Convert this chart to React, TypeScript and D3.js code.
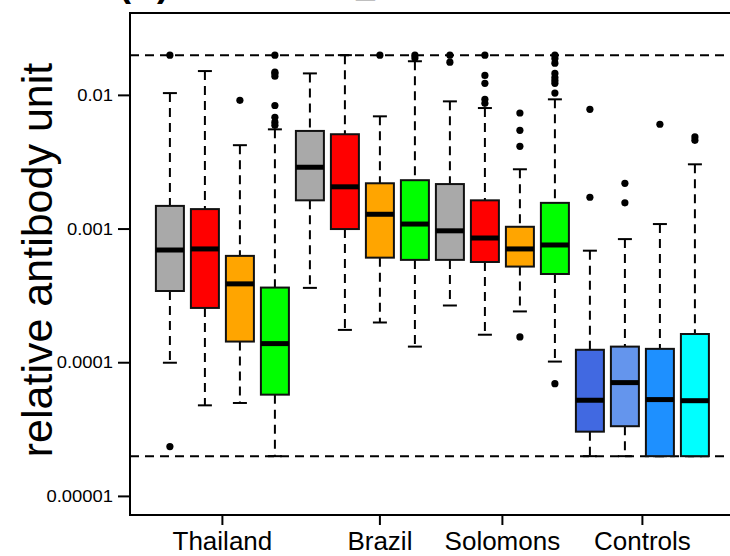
import React from "react";
import * as d3 from "d3";

// groups and box order
const groupLabels = ["Thailand", "Brazil", "Solomons", "Controls"];
const groupAt = [2.5, 7, 10.5, 14.5];
const boxFill = [
  "#A9A9A9", "#FF0000", "#FFA500", "#00FF00",
  "#A9A9A9", "#FF0000", "#FFA500", "#00FF00",
  "#A9A9A9", "#FF0000", "#FFA500", "#00FF00",
  "#4169E1", "#6495ED", "#1E90FF", "#00FFFF",
];

// box statistics
const whiskerLo = [1.0e-4, 4.8e-5, 5.0e-5, 2.0e-5, 3.63e-4, 1.76e-4, 2.0e-4, 1.32e-4, 2.68e-4, 1.62e-4, 2.42e-4, 1.02e-4, 2.0e-5, 2.0e-5, 2.0e-5, 2.0e-5];
const hingeLo = [3.44e-4, 2.57e-4, 1.44e-4, 5.77e-5, 1.64e-3, 1.0e-3, 6.11e-4, 5.88e-4, 5.88e-4, 5.67e-4, 5.24e-4, 4.61e-4, 3.05e-5, 3.35e-5, 2.0e-5, 2.0e-5];
const medians = [6.97e-4, 7.1e-4, 3.89e-4, 1.39e-4, 2.9e-3, 2.07e-3, 1.29e-3, 1.09e-3, 9.7e-4, 8.57e-4, 7.1e-4, 7.6e-4, 5.24e-5, 7.1e-5, 5.3e-5, 5.2e-5];
const hingeHi = [1.49e-3, 1.41e-3, 6.3e-4, 3.65e-4, 5.42e-3, 5.12e-3, 2.2e-3, 2.32e-3, 2.17e-3, 1.64e-3, 1.04e-3, 1.57e-3, 1.25e-4, 1.32e-4, 1.27e-4, 1.64e-4];
const whiskerHi = [1.04e-2, 1.52e-2, 4.24e-3, 5.57e-3, 1.46e-2, 2.0e-2, 6.97e-3, 1.8e-2, 9.02e-3, 8.04e-3, 2.8e-3, 9.34e-3, 6.89e-4, 8.41e-4, 1.09e-3, 3.05e-3];
const outliers = [
  [2.0e-2, 2.36e-5],
  [],
  [9.18e-3],
  [2.0e-2, 1.49e-2, 1.46e-2, 1.39e-2, 8.4e-3, 6.86e-3, 6.3e-3, 5.97e-3],
  [],
  [],
  [2.0e-2],
  [2.0e-2, 1.9e-2],
  [2.0e-2, 1.77e-2],
  [2.0e-2, 1.41e-2, 1.23e-2, 9.34e-3, 8.72e-3],
  [7.38e-3, 5.48e-3, 4.16e-3, 1.56e-4],
  [2.0e-2, 1.89e-2, 1.74e-2, 1.46e-2, 1.36e-2, 1.29e-2, 1.23e-2, 1.04e-2, 6.97e-5],
  [7.87e-3, 1.73e-3],
  [2.2e-3, 1.57e-3],
  [6.08e-3],
  [4.89e-3, 4.61e-3],
];

// y axis
const yTicks = [1e-5, 1e-4, 1e-3, 1e-2];
const yTickLabels = ["0.00001", "0.0001", "0.001", "0.01"];
const limitLines = [0.02, 2e-5];
const yLim = [1e-5, 0.03];

const W = 730;
const H = 556;
const font = "'Liberation Sans', Arial, Helvetica, sans-serif";

export default function App() {
  const n = boxFill.length;
  const left = 130, top = 13, bottom = 515;
  const unit = 35;
  const ext = n * 0.04;
  const xDom = [0.5 - ext, n + 0.5 + ext];
  const x = d3.scaleLinear().domain(xDom).range([left, left + (xDom[1] - xDom[0]) * unit]);
  const lo = Math.log10(yLim[0]), hi = Math.log10(yLim[1]);
  const yExt = (hi - lo) * 0.04;
  const y = d3.scaleLog().domain([10 ** (lo - yExt), 10 ** (hi + yExt)]).range([bottom, top]);
  const right = x(xDom[1]);

  const boxW = unit * 0.8;
  const stapleW = boxW / 2;
  const dash = "9,6";

  return (
    <div style={{ position: "fixed", left: 0, top: 0 }}>
      <svg width={W} height={H} style={{ display: "block", background: "#fff" }} fontFamily={font}>
        {/* title (cut off at the top of the picture) */}
        <text x={119} y={-3.6} fontSize={36} fontWeight="bold">(A)</text>
        <text x={203} y={-3.6} fontSize={34} fontWeight="bold">PvRBP2b_161-1454</text>

        {/* limit lines */}
        {limitLines.map((v, i) => (
          <line key={"lim" + i} x1={left} x2={right} y1={y(v)} y2={y(v)} stroke="#000" strokeWidth={2} strokeDasharray={dash} />
        ))}

        {/* boxes */}
        {boxFill.map((fill, i) => {
          const cx = x(i + 1);
          const yq1 = y(hingeLo[i]);
          const yq3 = y(hingeHi[i]);
          return (
            <g key={"box" + i}>
              <line x1={cx} x2={cx} y1={y(whiskerHi[i])} y2={yq3} stroke="#000" strokeWidth={2} strokeDasharray={dash} />
              <line x1={cx} x2={cx} y1={yq1} y2={y(whiskerLo[i])} stroke="#000" strokeWidth={2} strokeDasharray={dash} />
              <line x1={cx - stapleW / 2} x2={cx + stapleW / 2} y1={y(whiskerHi[i])} y2={y(whiskerHi[i])} stroke="#000" strokeWidth={2} />
              <line x1={cx - stapleW / 2} x2={cx + stapleW / 2} y1={y(whiskerLo[i])} y2={y(whiskerLo[i])} stroke="#000" strokeWidth={2} />
              <rect x={cx - boxW / 2} y={yq3} width={boxW} height={yq1 - yq3} fill={fill} stroke="#111" strokeWidth={2} />
              <line x1={cx - boxW / 2} x2={cx + boxW / 2} y1={y(medians[i])} y2={y(medians[i])} stroke="#000" strokeWidth={5} />
              {outliers[i].map((v, j) => (
                <circle key={j} cx={cx} cy={y(v)} r={3.6} fill="#000" />
              ))}
            </g>
          );
        })}

        {/* frame */}
        <rect x={left} y={top} width={right - left} height={bottom - top} fill="none" stroke="#000" strokeWidth={2} />

        {/* y axis */}
        {yTicks.map((v, i) => (
          <g key={"yt" + i}>
            <line x1={left - 12} x2={left} y1={y(v)} y2={y(v)} stroke="#000" strokeWidth={2} />
            <text
              transform={`translate(${left - 17},${y(v)}) scale(1.15,1)`}
              textAnchor="end"
              dominantBaseline="central"
              fontSize={16}
            >
              {yTickLabels[i]}
            </text>
          </g>
        ))}
        <text
          transform={`translate(52,${(top + bottom) / 2 - 4}) rotate(-90)`}
          textAnchor="middle"
          fontSize={43}
        >
          relative antibody unit
        </text>

        {/* x axis */}
        {groupLabels.map((g, i) => (
          <g key={"xt" + i}>
            <line x1={x(groupAt[i])} x2={x(groupAt[i])} y1={bottom} y2={bottom + 10} stroke="#000" strokeWidth={2} />
            <text x={x(groupAt[i])} y={550} textAnchor="middle" fontSize={26}>{g}</text>
          </g>
        ))}
      </svg>
    </div>
  );
}
